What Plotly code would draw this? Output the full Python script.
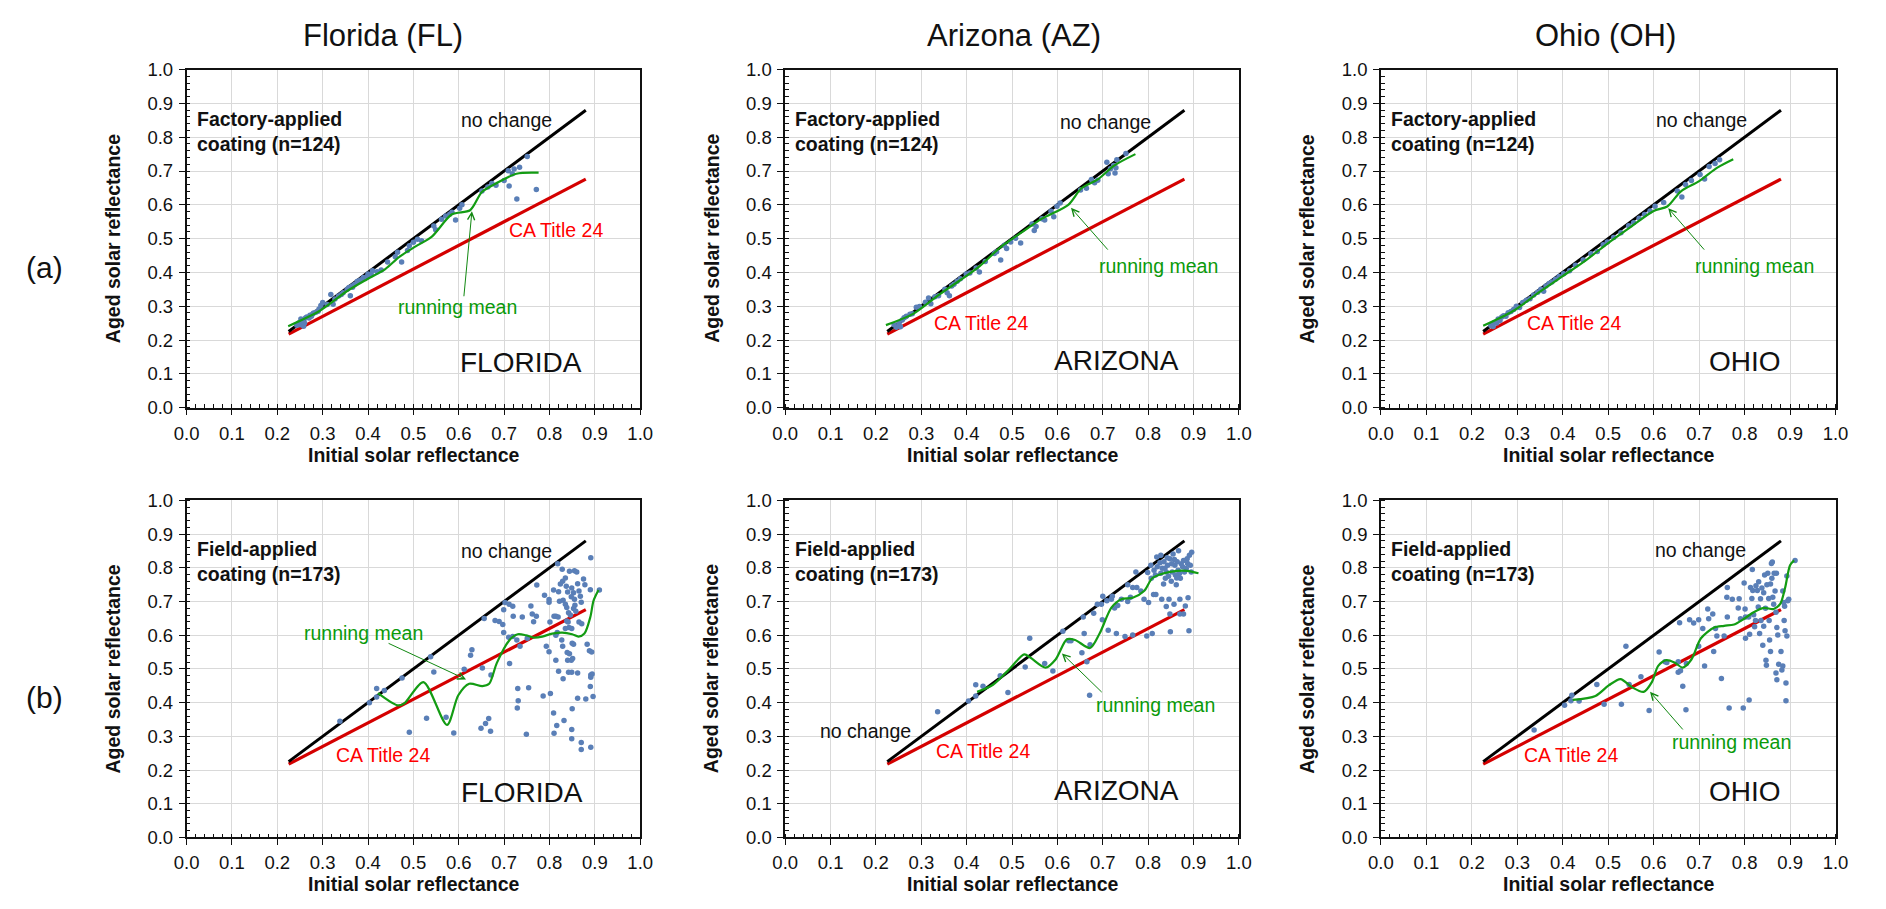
import plotly.graph_objects as go

# ---------------- text / categories ----------------
state_titles = ["Florida (FL)", "Arizona (AZ)", "Ohio (OH)"]
state_tags = ["FLORIDA", "ARIZONA", "OHIO"]
row_tags = ["(a)", "(b)"]
coating_labels = ["Factory-applied<br>coating (n=124)", "Field-applied<br>coating (n=173)"]
x_title = "Initial solar reflectance"
y_title = "Aged solar reflectance"
tick_vals = [0.0, 0.1, 0.2, 0.3, 0.4, 0.5, 0.6, 0.7, 0.8, 0.9, 1.0]

# reference lines: no change, and CA Title 24 (0.2 + 0.7*(init-0.2))
ref_init = [0.225, 0.88]
no_change_aged = [0.225, 0.88]
title24_aged = [0.2175, 0.676]

# ---------------- (a) factory-applied: (initial, aged) ----------------
fl_factory = [
    (0.243, 0.244), (0.247, 0.250), (0.250, 0.245), (0.252, 0.262), (0.255, 0.255),
    (0.258, 0.241), (0.260, 0.250), (0.262, 0.265), (0.265, 0.268), (0.270, 0.265),
    (0.272, 0.273), (0.275, 0.270), (0.278, 0.277), (0.280, 0.280), (0.285, 0.282),
    (0.290, 0.285), (0.292, 0.292), (0.296, 0.302), (0.300, 0.311), (0.310, 0.305),
    (0.318, 0.335), (0.323, 0.306), (0.327, 0.321), (0.335, 0.330), (0.341, 0.335),
    (0.345, 0.340), (0.354, 0.350), (0.358, 0.355), (0.361, 0.331), (0.365, 0.360),
    (0.366, 0.356), (0.370, 0.364), (0.376, 0.373), (0.380, 0.375), (0.385, 0.378),
    (0.390, 0.385), (0.398, 0.388), (0.400, 0.395), (0.407, 0.393), (0.410, 0.405),
    (0.420, 0.402), (0.429, 0.407), (0.443, 0.431), (0.460, 0.446), (0.465, 0.460),
    (0.474, 0.431), (0.487, 0.465), (0.491, 0.479), (0.500, 0.489), (0.509, 0.498),
    (0.518, 0.494), (0.545, 0.537), (0.549, 0.526), (0.562, 0.557), (0.571, 0.567),
    (0.580, 0.572), (0.585, 0.578), (0.593, 0.555), (0.602, 0.590), (0.607, 0.600),
    (0.651, 0.641), (0.664, 0.653), (0.673, 0.663), (0.682, 0.658), (0.700, 0.672),
    (0.709, 0.701), (0.711, 0.656), (0.718, 0.692), (0.722, 0.706), (0.728, 0.617),
    (0.734, 0.711), (0.751, 0.743), (0.771, 0.645),
]
az_factory = [
    (0.240, 0.245), (0.245, 0.238), (0.251, 0.249), (0.254, 0.239), (0.258, 0.259),
    (0.262, 0.266), (0.267, 0.270), (0.275, 0.276), (0.280, 0.278), (0.289, 0.297),
    (0.296, 0.299), (0.309, 0.312), (0.316, 0.324), (0.321, 0.307), (0.330, 0.328),
    (0.338, 0.331), (0.352, 0.350), (0.357, 0.340), (0.362, 0.331), (0.367, 0.360),
    (0.372, 0.365), (0.379, 0.374), (0.386, 0.381), (0.399, 0.395), (0.407, 0.398),
    (0.421, 0.413), (0.428, 0.401), (0.441, 0.432), (0.461, 0.456), (0.466, 0.461),
    (0.475, 0.437), (0.483, 0.480), (0.488, 0.471), (0.497, 0.490), (0.508, 0.501),
    (0.519, 0.487), (0.544, 0.543), (0.549, 0.524), (0.553, 0.536), (0.566, 0.559),
    (0.572, 0.555), (0.586, 0.581), (0.592, 0.565), (0.599, 0.596), (0.606, 0.605),
    (0.651, 0.644), (0.664, 0.649), (0.675, 0.675), (0.682, 0.665), (0.689, 0.673),
    (0.709, 0.726), (0.712, 0.692), (0.717, 0.707), (0.724, 0.716), (0.727, 0.694),
    (0.729, 0.710), (0.731, 0.733), (0.751, 0.752),
]
oh_factory = [
    (0.242, 0.243), (0.247, 0.240), (0.250, 0.252), (0.255, 0.250), (0.258, 0.262),
    (0.262, 0.258), (0.266, 0.268), (0.270, 0.272), (0.275, 0.270), (0.280, 0.281),
    (0.286, 0.284), (0.292, 0.290), (0.298, 0.300), (0.305, 0.296), (0.312, 0.311),
    (0.320, 0.318), (0.328, 0.322), (0.336, 0.333), (0.345, 0.341), (0.352, 0.350),
    (0.358, 0.344), (0.363, 0.360), (0.370, 0.367), (0.376, 0.372), (0.384, 0.380),
    (0.392, 0.388), (0.402, 0.396), (0.415, 0.405), (0.428, 0.421), (0.445, 0.437),
    (0.462, 0.455), (0.476, 0.462), (0.489, 0.482), (0.498, 0.490), (0.512, 0.503),
    (0.528, 0.517), (0.545, 0.538), (0.556, 0.547), (0.568, 0.560), (0.580, 0.571),
    (0.592, 0.582), (0.603, 0.596), (0.622, 0.607), (0.652, 0.641), (0.662, 0.623),
    (0.670, 0.660), (0.683, 0.672), (0.702, 0.690), (0.712, 0.676), (0.722, 0.713),
    (0.735, 0.722), (0.745, 0.733),
]

# ---------------- (b) field-applied: (initial, aged) ----------------
fl_field = [
    (0.338, 0.345), (0.403, 0.400), (0.419, 0.417), (0.419, 0.442), (0.436, 0.436),
    (0.475, 0.473), (0.491, 0.312), (0.529, 0.354), (0.538, 0.536), (0.545, 0.491),
    (0.572, 0.357), (0.589, 0.310), (0.612, 0.499), (0.626, 0.541), (0.629, 0.557),
    (0.649, 0.324), (0.659, 0.338), (0.666, 0.353), (0.670, 0.315), (0.652, 0.503),
    (0.656, 0.650), (0.671, 0.482), (0.680, 0.644), (0.689, 0.641), (0.697, 0.632),
    (0.699, 0.608), (0.699, 0.676), (0.702, 0.697), (0.711, 0.692), (0.719, 0.686),
    (0.720, 0.656), (0.710, 0.594), (0.712, 0.516), (0.719, 0.596), (0.730, 0.442),
    (0.731, 0.406), (0.729, 0.384), (0.740, 0.654), (0.749, 0.306), (0.754, 0.444),
    (0.759, 0.687), (0.762, 0.663), (0.765, 0.640), (0.771, 0.656), (0.772, 0.749),
    (0.751, 0.591), (0.735, 0.567), (0.728, 0.586), (0.786, 0.420), (0.789, 0.719),
    (0.799, 0.706), (0.799, 0.698), (0.793, 0.567), (0.799, 0.551), (0.801, 0.639),
    (0.802, 0.427), (0.809, 0.734), (0.810, 0.656), (0.814, 0.656), (0.819, 0.654),
    (0.814, 0.600), (0.809, 0.369), (0.810, 0.309), (0.816, 0.332), (0.820, 0.493),
    (0.814, 0.526), (0.818, 0.812), (0.828, 0.796), (0.829, 0.760), (0.824, 0.752),
    (0.820, 0.729), (0.817, 0.608), (0.827, 0.586), (0.829, 0.567), (0.830, 0.471),
    (0.832, 0.347), (0.835, 0.770), (0.837, 0.745), (0.840, 0.728), (0.830, 0.704),
    (0.835, 0.692), (0.838, 0.682), (0.842, 0.667), (0.846, 0.660), (0.838, 0.642),
    (0.844, 0.790), (0.855, 0.791), (0.860, 0.788), (0.849, 0.740), (0.853, 0.726),
    (0.848, 0.714), (0.855, 0.707), (0.856, 0.689), (0.853, 0.679), (0.858, 0.671),
    (0.862, 0.753), (0.865, 0.731), (0.868, 0.716), (0.870, 0.698), (0.875, 0.767),
    (0.878, 0.750), (0.865, 0.639), (0.871, 0.634), (0.841, 0.639), (0.843, 0.623),
    (0.849, 0.620), (0.835, 0.620), (0.850, 0.576), (0.853, 0.573), (0.839, 0.549),
    (0.844, 0.545), (0.851, 0.531), (0.848, 0.526), (0.840, 0.526), (0.842, 0.490),
    (0.849, 0.490), (0.862, 0.488), (0.850, 0.382), (0.849, 0.320), (0.849, 0.293),
    (0.862, 0.413), (0.870, 0.282), (0.870, 0.261), (0.880, 0.411), (0.883, 0.573),
    (0.888, 0.554), (0.893, 0.550), (0.891, 0.830), (0.890, 0.735), (0.891, 0.482),
    (0.894, 0.485), (0.891, 0.475), (0.890, 0.448), (0.896, 0.418), (0.891, 0.268),
    (0.910, 0.734), (0.822, 0.701),
]
az_field = [
    (0.336, 0.373), (0.404, 0.405), (0.420, 0.420), (0.420, 0.453), (0.436, 0.449),
    (0.474, 0.480), (0.491, 0.430), (0.529, 0.506), (0.539, 0.591), (0.572, 0.516),
    (0.590, 0.494), (0.612, 0.612), (0.625, 0.584), (0.630, 0.584), (0.654, 0.548),
    (0.659, 0.605), (0.665, 0.521), (0.672, 0.572), (0.657, 0.654), (0.671, 0.422),
    (0.680, 0.665), (0.688, 0.692), (0.697, 0.692), (0.700, 0.716), (0.699, 0.646),
    (0.709, 0.702), (0.712, 0.615), (0.719, 0.707), (0.721, 0.716), (0.726, 0.681),
    (0.730, 0.605), (0.733, 0.688), (0.741, 0.707), (0.749, 0.596), (0.755, 0.700),
    (0.755, 0.750), (0.761, 0.713), (0.766, 0.601), (0.773, 0.788), (0.775, 0.742),
    (0.784, 0.731), (0.791, 0.707), (0.797, 0.598), (0.801, 0.697), (0.799, 0.786),
    (0.809, 0.605), (0.806, 0.808), (0.807, 0.769), (0.812, 0.721), (0.817, 0.721),
    (0.813, 0.793), (0.819, 0.832), (0.820, 0.803), (0.828, 0.837), (0.828, 0.784),
    (0.830, 0.707), (0.831, 0.799), (0.835, 0.818), (0.838, 0.769), (0.840, 0.788),
    (0.840, 0.685), (0.843, 0.808), (0.846, 0.707), (0.848, 0.663), (0.848, 0.827),
    (0.849, 0.610), (0.851, 0.760), (0.853, 0.788), (0.855, 0.841), (0.857, 0.692),
    (0.859, 0.808), (0.860, 0.779), (0.862, 0.750), (0.864, 0.818), (0.867, 0.851),
    (0.866, 0.793), (0.870, 0.707), (0.870, 0.663), (0.871, 0.769), (0.873, 0.812),
    (0.876, 0.803), (0.878, 0.663), (0.880, 0.788), (0.882, 0.687), (0.886, 0.827),
    (0.887, 0.813), (0.888, 0.711), (0.890, 0.613), (0.891, 0.837), (0.893, 0.808),
    (0.896, 0.846), (0.895, 0.788), (0.837, 0.799), (0.816, 0.779), (0.766, 0.742),
    (0.826, 0.815), (0.845, 0.775), (0.858, 0.825), (0.869, 0.783), (0.878, 0.822),
    (0.834, 0.752), (0.852, 0.812), (0.863, 0.770), (0.884, 0.798), (0.842, 0.830),
]
oh_field = [
    (0.337, 0.319), (0.404, 0.392), (0.418, 0.406), (0.420, 0.422), (0.436, 0.405),
    (0.475, 0.454), (0.491, 0.395), (0.529, 0.395), (0.539, 0.567), (0.546, 0.454),
    (0.572, 0.477), (0.590, 0.377), (0.612, 0.550), (0.625, 0.521), (0.629, 0.519),
    (0.654, 0.521), (0.654, 0.490), (0.659, 0.495), (0.664, 0.449), (0.657, 0.637),
    (0.671, 0.379), (0.672, 0.516), (0.679, 0.646), (0.688, 0.636), (0.699, 0.646),
    (0.699, 0.567), (0.708, 0.620), (0.712, 0.509), (0.719, 0.678), (0.721, 0.649),
    (0.730, 0.663), (0.732, 0.552), (0.736, 0.620), (0.739, 0.598), (0.749, 0.472),
    (0.755, 0.598), (0.761, 0.713), (0.762, 0.654), (0.762, 0.742), (0.766, 0.384),
    (0.773, 0.707), (0.786, 0.681), (0.788, 0.708), (0.791, 0.649), (0.797, 0.384),
    (0.799, 0.755), (0.801, 0.678), (0.802, 0.654), (0.802, 0.591), (0.809, 0.654),
    (0.810, 0.408), (0.811, 0.603), (0.813, 0.742), (0.816, 0.709), (0.817, 0.795),
    (0.818, 0.733), (0.820, 0.661), (0.822, 0.625), (0.824, 0.644), (0.825, 0.747),
    (0.828, 0.733), (0.830, 0.684), (0.831, 0.759), (0.833, 0.605), (0.835, 0.708),
    (0.836, 0.644), (0.838, 0.740), (0.840, 0.570), (0.842, 0.726), (0.842, 0.627),
    (0.844, 0.779), (0.846, 0.680), (0.847, 0.526), (0.848, 0.511), (0.849, 0.750),
    (0.851, 0.784), (0.853, 0.709), (0.854, 0.644), (0.855, 0.586), (0.857, 0.752),
    (0.857, 0.552), (0.859, 0.813), (0.860, 0.769), (0.861, 0.817), (0.862, 0.713),
    (0.864, 0.692), (0.865, 0.784), (0.867, 0.731), (0.869, 0.668), (0.870, 0.784),
    (0.871, 0.623), (0.871, 0.468), (0.873, 0.601), (0.875, 0.514), (0.880, 0.552),
    (0.882, 0.497), (0.884, 0.731), (0.886, 0.697), (0.887, 0.644), (0.888, 0.686),
    (0.889, 0.613), (0.891, 0.458), (0.891, 0.406), (0.893, 0.598), (0.895, 0.702),
    (0.897, 0.707), (0.884, 0.509), (0.869, 0.488), (0.911, 0.822), (0.893, 0.776),
]

# ---------------- running means: (initial, aged) ----------------
fl_factory_mean = [
    (0.224, 0.241), (0.292, 0.285), (0.354, 0.345), (0.398, 0.380), (0.438, 0.410),
    (0.469, 0.446), (0.505, 0.477), (0.540, 0.505), (0.585, 0.572), (0.625, 0.584),
    (0.651, 0.638), (0.682, 0.663), (0.727, 0.692), (0.776, 0.695),
]
az_factory_mean = [
    (0.222, 0.244), (0.283, 0.278), (0.341, 0.336), (0.388, 0.379), (0.428, 0.418),
    (0.475, 0.475), (0.522, 0.519), (0.566, 0.559), (0.624, 0.600), (0.653, 0.649),
    (0.689, 0.675), (0.725, 0.716), (0.772, 0.750),
]
oh_factory_mean = [
    (0.225, 0.242), (0.290, 0.285), (0.350, 0.343), (0.400, 0.389), (0.450, 0.435),
    (0.500, 0.487), (0.550, 0.535), (0.600, 0.582), (0.630, 0.595), (0.660, 0.640),
    (0.700, 0.670), (0.740, 0.710), (0.775, 0.735),
]
fl_field_mean = [
    (0.422, 0.428), (0.465, 0.392), (0.480, 0.398), (0.522, 0.461), (0.574, 0.334),
    (0.599, 0.422), (0.623, 0.456), (0.652, 0.449), (0.667, 0.456), (0.684, 0.518),
    (0.712, 0.586), (0.730, 0.603), (0.748, 0.600), (0.766, 0.593), (0.784, 0.596),
    (0.806, 0.605), (0.828, 0.608), (0.850, 0.603), (0.864, 0.596), (0.877, 0.605),
    (0.890, 0.654), (0.897, 0.702), (0.908, 0.734),
]
az_field_mean = [
    (0.423, 0.432), (0.458, 0.453), (0.491, 0.495), (0.527, 0.543), (0.541, 0.533),
    (0.574, 0.504), (0.596, 0.528), (0.621, 0.588), (0.639, 0.586), (0.672, 0.562),
    (0.693, 0.605), (0.719, 0.682), (0.741, 0.707), (0.766, 0.711), (0.791, 0.731),
    (0.809, 0.769), (0.835, 0.784), (0.864, 0.791), (0.886, 0.791), (0.911, 0.784),
]
oh_field_mean = [
    (0.422, 0.408), (0.472, 0.420), (0.501, 0.451), (0.527, 0.470), (0.552, 0.446),
    (0.578, 0.432), (0.596, 0.461), (0.610, 0.509), (0.628, 0.526), (0.646, 0.519),
    (0.664, 0.504), (0.683, 0.528), (0.704, 0.591), (0.733, 0.623), (0.755, 0.628),
    (0.777, 0.632), (0.799, 0.649), (0.820, 0.668), (0.842, 0.681), (0.864, 0.678),
    (0.878, 0.692), (0.889, 0.740), (0.900, 0.808), (0.909, 0.822),
]

points = [[fl_factory, az_factory, oh_factory], [fl_field, az_field, oh_field]]
means = [[fl_factory_mean, az_factory_mean, oh_factory_mean],
         [fl_field_mean, az_field_mean, oh_field_mean]]

# ---------------- label placement per panel (layout, not data) ----------------
label_pos = [
    [
        dict(nc=(0.705, 0.851), t24=(0.815, 0.526), rm=(0.597, 0.297), tail=(0.611, 0.325), head=(0.629, 0.581), tag=(0.737, 0.134)),
        dict(nc=(0.705, 0.846), t24=(0.431, 0.251), rm=(0.822, 0.419), tail=(0.714, 0.463), head=(0.630, 0.591), tag=(0.730, 0.138)),
        dict(nc=(0.705, 0.850), t24=(0.425, 0.250), rm=(0.822, 0.419), tail=(0.714, 0.463), head=(0.632, 0.590), tag=(0.800, 0.136)),
    ],
    [
        dict(nc=(0.705, 0.849), t24=(0.434, 0.244), rm=(0.390, 0.607), tail=(0.442, 0.578), head=(0.616, 0.469), tag=(0.740, 0.133)),
        dict(nc=(0.178, 0.317), t24=(0.435, 0.256), rm=(0.816, 0.393), tail=(0.701, 0.427), head=(0.610, 0.546), tag=(0.730, 0.139)),
        dict(nc=(0.703, 0.854), t24=(0.419, 0.244), rm=(0.771, 0.283), tail=(0.667, 0.316), head=(0.592, 0.432), tag=(0.800, 0.136)),
    ],
]

W, H = 1886, 909
col_px = [(176, 636), (783, 1243), (1387, 1848)]
row_px = [(60, 406), (501, 846)]

FONT = "Liberation Sans, Arial, sans-serif"
BLUE = "#5a7fb7"
GREEN = "#139c13"
GREEN_TXT = "#0a9a0a"
RED_LINE = "#d40000"
RED_TXT = "#ff0000"
TXT = 19.5

fig = go.Figure()
annotations = []
layout_axes = {}

for r in range(2):
    for c in range(3):
        n = r * 3 + c + 1
        sx = "" if n == 1 else str(n)
        xr, yr = "x" + sx, "y" + sx
        x0, x1 = col_px[c]
        y0, y1 = row_px[r]
        axis_common = dict(
            range=[0, 1], tickmode="array", tickvals=tick_vals,
            ticktext=[f"{v:.1f}" for v in tick_vals],
            showgrid=True, gridcolor="#d9d9d9", gridwidth=1.3,
            showline=True, linecolor="#111", linewidth=1.5, mirror=True,
            ticks="outside", ticklen=6, tickwidth=1.3, tickcolor="#111",
            ticklabelstandoff=2,
            minor=dict(dtick=0.02, tick0=0, ticks="inside", ticklen=4, tickwidth=1, tickcolor="#111", showgrid=False),
            zeroline=False, fixedrange=True,
            tickfont=dict(family=FONT, size=18.5, color="#111"),
        )
        layout_axes["xaxis" + sx] = dict(axis_common, domain=[x0 / W, x1 / W], anchor=yr)
        layout_axes["yaxis" + sx] = dict(axis_common, domain=[1 - y1 / H, 1 - y0 / H], anchor=xr)

        # CA Title 24 line
        fig.add_trace(go.Scatter(x=ref_init, y=title24_aged, mode="lines", xaxis=xr, yaxis=yr,
                                 line=dict(color=RED_LINE, width=3.2), hoverinfo="skip", showlegend=False))
        # no change line
        fig.add_trace(go.Scatter(x=ref_init, y=no_change_aged, mode="lines", xaxis=xr, yaxis=yr,
                                 line=dict(color="#000000", width=3), hoverinfo="skip", showlegend=False))
        # data points
        pts = points[r][c]
        fig.add_trace(go.Scatter(x=[p[0] for p in pts], y=[p[1] for p in pts], mode="markers",
                                 xaxis=xr, yaxis=yr, marker=dict(color=BLUE, size=5.5, line=dict(width=0)),
                                 showlegend=False))
        # running mean
        mm = means[r][c]
        fig.add_trace(go.Scatter(x=[p[0] for p in mm], y=[p[1] for p in mm], mode="lines",
                                 xaxis=xr, yaxis=yr, line=dict(color=GREEN, width=2.2, shape="spline", smoothing=0.8),
                                 hoverinfo="skip", showlegend=False))

        lp = label_pos[r][c]
        txt = dict(xref=xr, yref=yr, showarrow=False, xanchor="center", yanchor="middle")
        annotations.append(dict(txt, x=0.018, y=0.818, xanchor="left", align="left",
                                text="<b>" + coating_labels[r] + "</b>",
                                font=dict(family=FONT, size=TXT, color="#111")))
        annotations.append(dict(txt, x=lp["nc"][0], y=lp["nc"][1], text="no change",
                                font=dict(family=FONT, size=TXT, color="#111")))
        annotations.append(dict(txt, x=lp["t24"][0], y=lp["t24"][1], text="CA Title 24",
                                font=dict(family=FONT, size=TXT, color=RED_TXT)))
        annotations.append(dict(txt, x=lp["rm"][0], y=lp["rm"][1], text="running mean",
                                font=dict(family=FONT, size=TXT, color=GREEN_TXT)))
        annotations.append(dict(txt, x=lp["tag"][0], y=lp["tag"][1], text=state_tags[c],
                                font=dict(family=FONT, size=28, color="#111")))
        annotations.append(dict(xref=xr, yref=yr, axref=xr, ayref=yr, x=lp["head"][0], y=lp["head"][1],
                                ax=lp["tail"][0], ay=lp["tail"][1], text="", showarrow=True,
                                arrowhead=5, arrowsize=1.4, arrowwidth=1, arrowcolor="#118811", standoff=0))
        # axis titles
        annotations.append(dict(xref=xr + " domain", yref=yr + " domain", x=0.5, y=0, yshift=-47,
                                xanchor="center", yanchor="middle", showarrow=False,
                                text="<b>" + x_title + "</b>", font=dict(family=FONT, size=TXT, color="#111")))
        annotations.append(dict(xref=xr + " domain", yref=yr + " domain", x=0, y=0.5, xshift=-74,
                                xanchor="center", yanchor="middle", showarrow=False, textangle=-90,
                                text="<b>" + y_title + "</b>", font=dict(family=FONT, size=TXT, color="#111")))

# column titles
title_x_px = [375, 1015, 1615]
for c in range(3):
    annotations.append(dict(xref="paper", yref="paper", x=title_x_px[c] / W, y=1 - 25 / H,
                            xanchor="center", yanchor="middle", showarrow=False, text=state_titles[c],
                            font=dict(family=FONT, size=31, color="#111")))
# row tags
row_tag_y = [263, 703]
for r in range(2):
    annotations.append(dict(xref="paper", yref="paper", x=32 / W, y=1 - row_tag_y[r] / H,
                            xanchor="center", yanchor="middle", showarrow=False, text=row_tags[r],
                            font=dict(family=FONT, size=30, color="#111")))

fig.update_layout(
    width=W, height=H, margin=dict(l=0, r=0, t=0, b=0),
    paper_bgcolor="white", plot_bgcolor="white", showlegend=False,
    annotations=annotations, **layout_axes,
)

fig.write_html("out.html", config={"displayModeBar": False},
               post_script="document.body.style.margin='0';document.body.style.overflow='hidden';")
